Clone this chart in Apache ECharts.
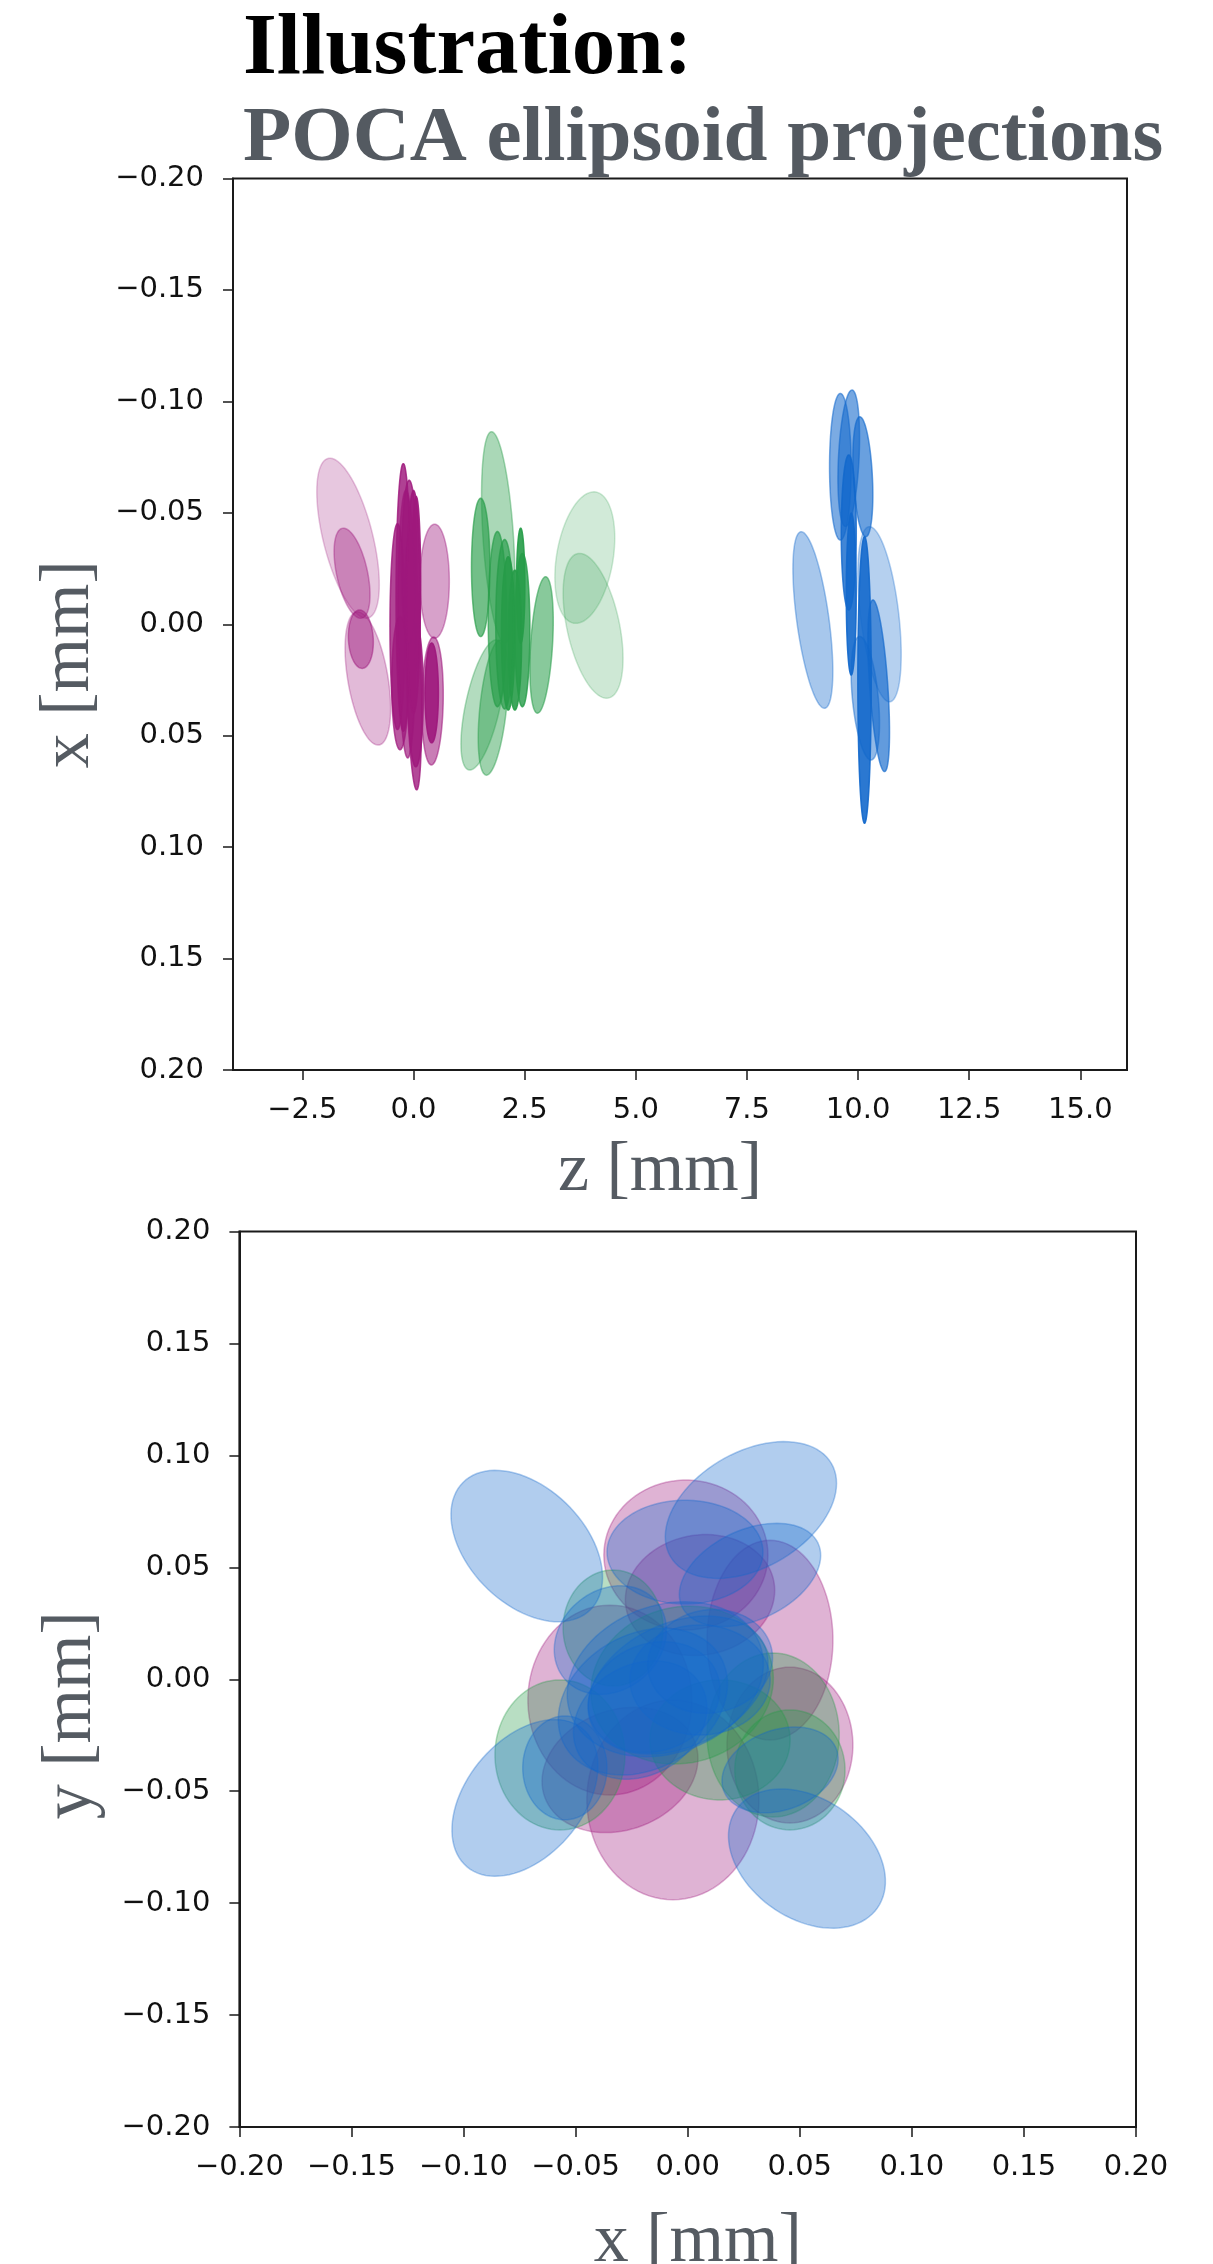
<!DOCTYPE html>
<html><head><meta charset="utf-8">
<script src="https://cdn.jsdelivr.net/npm/echarts@6.0.0/dist/echarts.min.js"></script>
<style>html,body{margin:0;padding:0;background:#fff}#c{width:1213px;height:2264px}</style>
</head><body><div id="c"></div>
<script>
// ---- Top panel: z–x projections. Rows: [z centre, x centre, half-extent in z, half-extent in x, correlation]
const topPink = [
  [-1.472, -0.0386, 0.703, 0.0359, 0.58],
  [-1.027,  0.0243, 0.512, 0.0299, 0.45],
  [-1.382, -0.0229, 0.404, 0.0202, 0.48],
  [-1.184,  0.0067, 0.281, 0.0131, 0.10],
  [ 0.476, -0.0193, 0.330, 0.0256, 0.00],
  [ 0.427,  0.0344, 0.243, 0.0287, -0.10],
  [ 0.409,  0.0308, 0.151, 0.0224, 0.00],
  [-0.229, -0.0120, 0.164, 0.0601, 0.00],
  [ 0.061, -0.0184, 0.101, 0.0389, 0.00],
  [-0.360,  0.0011, 0.169, 0.0462, 0.00],
  [-0.004,  0.0160, 0.187, 0.0583, 0.40],
  [-0.303,  0.0264, 0.187, 0.0299, 0.00],
  [-0.097, -0.0274, 0.169, 0.0372, 0.00],
  [ 0.052,  0.0317, 0.169, 0.0323, 0.00],
  [-0.150,  0.0000, 0.200, 0.0600, 0.10],
  [ 0.000, -0.0100, 0.150, 0.0500, 0.00]
];
const topGreen = [
  [1.906, -0.0390, 0.375, 0.0474, 0.40],
  [1.512, -0.0255, 0.207, 0.0310, 0.00],
  [1.562,  0.0362, 0.494, 0.0292, -0.60],
  [1.793,  0.0374, 0.337, 0.0303, -0.45],
  [1.888, -0.0023, 0.207, 0.0393, 0.00],
  [2.130,  0.0041, 0.151, 0.0344, 0.00],
  [2.449,  0.0026, 0.169, 0.0344, 0.00],
  [2.411, -0.0173, 0.094, 0.0258, 0.00],
  [2.281,  0.0071, 0.151, 0.0314, 0.00],
  [2.881,  0.0093, 0.263, 0.0306, -0.35],
  [3.854, -0.0299, 0.674, 0.0295, -0.30],
  [4.040,  0.0007, 0.674, 0.0325, 0.45],
  [2.050,  0.0000, 0.200, 0.0380, 0.00]
];
const topBlue = [
  [ 8.984, -0.0019, 0.449, 0.0396, 0.58],
  [ 9.602, -0.0707, 0.243, 0.0329, 0.00],
  [ 9.791, -0.0745, 0.243, 0.0306, -0.30],
  [10.108, -0.0662, 0.225, 0.0269, 0.30],
  [ 9.791, -0.0412, 0.169, 0.0348, 0.00],
  [ 9.847, -0.0135, 0.112, 0.0363, 0.00],
  [10.483, -0.0045, 0.488, 0.0393, 0.46],
  [10.146,  0.0250, 0.151, 0.0643, 0.00],
  [10.465,  0.0276, 0.243, 0.0385, 0.54],
  [10.164,  0.0332, 0.319, 0.0277, 0.40]
];
// ---- Bottom panel: x–y projections. Rows: [x centre, y centre, semi-major, semi-minor, angle deg]
const bottomPink = [
  [-0.0008,  0.0555, 0.0366, 0.0335, 0],
  [-0.0347, -0.0093, 0.0424, 0.0366, 90],
  [ 0.0367,  0.0175, 0.0446, 0.0281, 90],
  [ 0.0456, -0.0294, 0.0348, 0.0281, 90],
  [-0.0066, -0.0539, 0.0446, 0.0384, 90],
  [ 0.0055,  0.0376, 0.0335, 0.0268, 10],
  [-0.0302, -0.0405, 0.0357, 0.0268, 20]
];
const bottomGreen = [
  [-0.0570, -0.0338, 0.0335, 0.0290, 90],
  [ 0.0381, -0.0249, 0.0366, 0.0295, 90],
  [-0.0025, -0.0026, 0.0411, 0.0348, 15],
  [-0.0333,  0.0229, 0.0259, 0.0223, 90],
  [ 0.0144, -0.0271, 0.0313, 0.0268, 0],
  [ 0.0456, -0.0405, 0.0268, 0.0246, 90]
];
const bottomBlue = [
  [-0.0718,  0.0595, 0.0402, 0.0259, 135],
  [ 0.0282,  0.0756, 0.0415, 0.0259, 30],
  [-0.0726, -0.0530, 0.0402, 0.0259, 50],
  [ 0.0532, -0.0801, 0.0384, 0.0268, 145],
  [-0.0043, -0.0026, 0.0424, 0.0277, 25],
  [ 0.0278,  0.0466, 0.0335, 0.0201, 25],
  [-0.0012,  0.0568, 0.0348, 0.0232, 0],
  [-0.0548, -0.0396, 0.0232, 0.0188, 90],
  [-0.0212, -0.0182, 0.0313, 0.0246, 30],
  [ 0.0412, -0.0405, 0.0268, 0.0179, 20],
  [-0.0345,  0.0175, 0.0268, 0.0223, 40],
  [ 0.0055, -0.0003, 0.0313, 0.0246, 0],
  [-0.0150, -0.0080, 0.0300, 0.0240, 20],
  [ 0.0100,  0.0080, 0.0280, 0.0230, 10],
  [-0.0100,  0.0000, 0.0450, 0.0330, 20],
  [-0.0200, -0.0100, 0.0400, 0.0300, 30]
];
// ---- Tick labels
const zTicks = [-2.5, 0, 2.5, 5, 7.5, 10, 12.5, 15];
const mmTicks = [-0.2, -0.15, -0.1, -0.05, 0, 0.05, 0.1, 0.15, 0.2];
const zRange = [-4.06, 16.05];
const mmRange = [-0.2, 0.2];

const PINK = [158, 24, 124], GREEN = [38, 156, 72], BLUE = [18, 104, 204];
function rgba(c, a) { return 'rgba(' + c[0] + ',' + c[1] + ',' + c[2] + ',' + a.toFixed(3) + ')'; }
function fmt(d) { return function (v) { const s = Math.abs(v).toFixed(d); return (v < -1e-9 ? '\u2212' : '') + s; }; }

function makeRender(kind, color, op) {
  return function (params, api) {
    const c0 = api.value(0), c1 = api.value(1);
    let u, v;
    if (kind === 'cov') {
      const sz = api.value(2), sx = api.value(3), r = api.value(4);
      u = [sz, r * sx]; v = [0, sx * Math.sqrt(1 - r * r)];
    } else {
      const a = api.value(2), b = api.value(3), th = api.value(4) * Math.PI / 180;
      u = [a * Math.cos(th), a * Math.sin(th)]; v = [-b * Math.sin(th), b * Math.cos(th)];
    }
    const pts = [];
    const N = 90;
    for (let i = 0; i < N; i++) {
      const t = 2 * Math.PI * i / N, ct = Math.cos(t), st = Math.sin(t);
      pts.push(api.coord([c0 + u[0] * ct + v[0] * st, c1 + u[1] * ct + v[1] * st]));
    }
    let alpha = op.alpha;
    if (op.k) {
      const p0 = api.coord([c0, c1]);
      const pu = api.coord([c0 + u[0], c1 + u[1]]), pv = api.coord([c0 + v[0], c1 + v[1]]);
      const ux = pu[0] - p0[0], uy = pu[1] - p0[1], vx = pv[0] - p0[0], vy = pv[1] - p0[1];
      const T = ux * ux + uy * uy + vx * vx + vy * vy, D = Math.abs(ux * vy - uy * vx);
      const minor = Math.sqrt(Math.max(0.01, (T - Math.sqrt(Math.max(0, T * T - 4 * D * D))) / 2));
      alpha = Math.max(op.lo, Math.min(op.hi, op.k / minor));
    }
    return {
      type: 'polygon',
      shape: { points: pts },
      style: { fill: rgba(color, alpha), stroke: rgba(color, alpha), lineWidth: 1.5 }
    };
  };
}

const tickFont = { fontFamily: 'DejaVu Sans', fontSize: 29, color: '#111' };
const nameFont = { fontFamily: 'Liberation Serif', fontSize: 70, lineHeight: 70, color: '#555b62' };
const axisLineStyle = { onZero: false, lineStyle: { color: '#1a1a1a', width: 2 } };
const tickStyle = { show: true, length: 10, lineStyle: { color: '#1a1a1a', width: 1.5 } };

const topOp = { k: 6, lo: 0.2, hi: 0.9 };
const botOp = { alpha: 0.33 };

const chart = echarts.init(document.getElementById('c'), null, { renderer: 'canvas' });
chart.setOption({
  animation: false,
  backgroundColor: '#ffffff',
  title: [
    { text: 'Illustration:', left: 243, top: 7, padding: 0,
      textStyle: { fontFamily: 'Liberation Serif', fontWeight: 'bold', fontSize: 87, lineHeight: 87, color: '#000' } },
    { text: 'POCA ellipsoid projections', left: 243, top: 100, padding: 0,
      textStyle: { fontFamily: 'Liberation Serif', fontWeight: 'bold', fontSize: 79, lineHeight: 79, color: '#545a61' } }
  ],
  grid: [
    { left: 233, top: 178.5, width: 894, height: 891.5, show: true, borderColor: '#1a1a1a', borderWidth: 2,
      backgroundColor: 'transparent', containLabel: false, outerBoundsMode: 'none' },
    { left: 239.4, top: 1231.5, width: 896.6, height: 895.5, show: true, borderColor: '#1a1a1a', borderWidth: 2,
      backgroundColor: 'transparent', containLabel: false, outerBoundsMode: 'none' }
  ],
  xAxis: [
    { type: 'value', gridIndex: 0, min: zRange[0], max: zRange[1],
      axisLine: axisLineStyle, axisTick: Object.assign({ customValues: zTicks }, tickStyle),
      axisLabel: Object.assign({ customValues: zTicks, margin: 26, formatter: fmt(1) }, tickFont),
      splitLine: { show: false },
      name: 'z [mm]', nameLocation: 'middle', nameGap: 67,
      nameTextStyle: Object.assign({ padding: [0, 40, 0, 0] }, nameFont) },
    { type: 'value', gridIndex: 1, min: mmRange[0], max: mmRange[1], interval: 0.05,
      axisLine: axisLineStyle, axisTick: tickStyle,
      axisLabel: Object.assign({ margin: 26, formatter: fmt(2), showMinLabel: true, showMaxLabel: true }, tickFont),
      splitLine: { show: false },
      name: 'x [mm]', nameLocation: 'middle', nameGap: 81,
      nameTextStyle: Object.assign({ padding: [0, 0, 0, 20] }, nameFont) }
  ],
  yAxis: [
    { type: 'value', gridIndex: 0, min: mmRange[0], max: mmRange[1], interval: 0.05, inverse: true,
      axisLine: axisLineStyle, axisTick: tickStyle,
      axisLabel: Object.assign({ margin: 29, formatter: fmt(2), showMinLabel: true, showMaxLabel: true }, tickFont),
      splitLine: { show: false },
      name: 'x [mm]', nameLocation: 'middle', nameGap: 128,
      nameTextStyle: Object.assign({ padding: [0, 80, 0, 0] }, nameFont) },
    { type: 'value', gridIndex: 1, min: mmRange[0], max: mmRange[1], interval: 0.05,
      axisLine: axisLineStyle, axisTick: tickStyle,
      axisLabel: Object.assign({ margin: 29, formatter: fmt(2), showMinLabel: true, showMaxLabel: true }, tickFont),
      splitLine: { show: false },
      name: 'y [mm]', nameLocation: 'middle', nameGap: 133,
      nameTextStyle: Object.assign({ padding: [0, 72, 0, 0] }, nameFont) }
  ],
  series: [
    { type: 'custom', name: 'pink zx', xAxisIndex: 0, yAxisIndex: 0, data: topPink, encode: { x: 0, y: 1 }, renderItem: makeRender('cov', PINK, topOp) },
    { type: 'custom', name: 'green zx', xAxisIndex: 0, yAxisIndex: 0, data: topGreen, encode: { x: 0, y: 1 }, renderItem: makeRender('cov', GREEN, topOp) },
    { type: 'custom', name: 'blue zx', xAxisIndex: 0, yAxisIndex: 0, data: topBlue, encode: { x: 0, y: 1 }, renderItem: makeRender('cov', BLUE, topOp) },
    { type: 'custom', name: 'pink xy', xAxisIndex: 1, yAxisIndex: 1, data: bottomPink, encode: { x: 0, y: 1 }, renderItem: makeRender('axes', PINK, botOp) },
    { type: 'custom', name: 'green xy', xAxisIndex: 1, yAxisIndex: 1, data: bottomGreen, encode: { x: 0, y: 1 }, renderItem: makeRender('axes', GREEN, botOp) },
    { type: 'custom', name: 'blue xy', xAxisIndex: 1, yAxisIndex: 1, data: bottomBlue, encode: { x: 0, y: 1 }, renderItem: makeRender('axes', BLUE, botOp) }
  ]
});
</script></body></html>
